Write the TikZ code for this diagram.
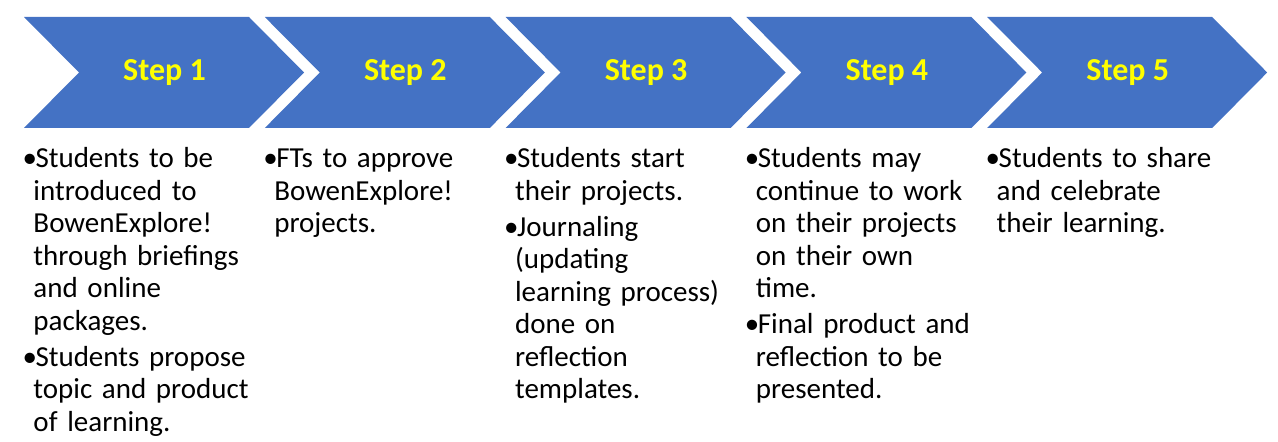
\documentclass[tikz,border=0pt]{standalone}
\usepackage{fontspec}
\setmainfont{Carlito}
\usepackage{tikz}
\definecolor{chevblue}{RGB}{68,114,196}
\definecolor{stepyellow}{RGB}{255,255,0}
\newcommand{\notefont}{\fontsize{21.75pt}{24.4pt}\selectfont}
\newcommand{\labelfont}{\fontsize{24pt}{28pt}\selectfont\bfseries}
\newcommand{\bitem}[1]{\par\hangindent=8.25pt\hangafter=1\noindent\strut\makebox[9.75pt][l]{\textbullet}#1\par}
\tikzset{every picture/.style={line width=0.75pt}}
\tikzset{
  chevron/.style={fill=chevblue, draw=none},
  steplabel/.style={text=stepyellow, font=\labelfont, inner sep=0pt, anchor=base},
  stepnote/.style={anchor=north west, inner sep=0pt, text width=190pt, align=left,
    font=\notefont\setlength{\parskip}{2.6pt}}
}

\begin{document}
\begin{tikzpicture}[x=0.75pt,y=0.75pt,yscale=-1,xscale=1]
		\useasboundingbox (0,0) rectangle (1278,442);
		
		%Shape: Chevrons and step labels
		\foreach \i in {1,...,5}{
			\pgfmathsetmacro{\l}{24+240.8*(\i-1)}
			\draw [chevron] (\l,17) -- (\l+225,17) -- (\l+280,72.5) -- (\l+225,128) -- (\l,128) -- (\l+55,72.5) -- cycle ;
			\node [steplabel] (step\i) at (\l+140.5,81) {Step \i};
		}
		
		%Text: notes under each step
		\node [stepnote] (note1) at (22,131.2) {%
			\bitem{Students to be\newline introduced to\newline BowenExplore!\newline through briefings\newline and online\newline packages.}
			\bitem{Students propose\newline topic and product\newline of learning.}};
		\node [stepnote] (note2) at (262.8,131.2) {%
			\bitem{FTs to approve\newline BowenExplore!\newline projects.}};
		\node [stepnote] (note3) at (503.6,131.2) {%
			\bitem{Students start\newline their projects.}
			\bitem{Journaling\newline (updating\newline learning process)\newline done on\newline reflection\newline templates.}};
		\node [stepnote] (note4) at (744.4,131.2) {%
			\bitem{Students may\newline continue to work\newline on their projects\newline on their own\newline time.}
			\bitem{Final product and\newline reflection to be\newline presented.}};
		\node [stepnote] (note5) at (985.2,131.2) {%
			\bitem{Students to share\newline and celebrate\newline their learning.}};
		
\end{tikzpicture}
\end{document}
